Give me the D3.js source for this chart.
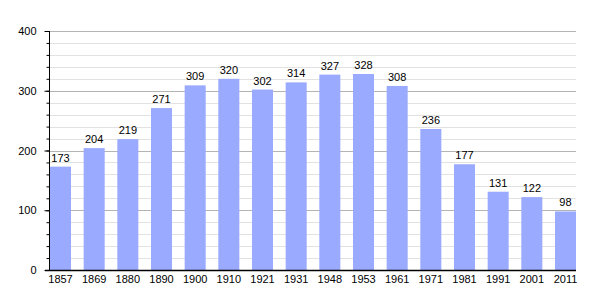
<!DOCTYPE html>
<html>
<head>
<meta charset="utf-8">
<script src="https://cdn.jsdelivr.net/npm/d3@7"></script>
<style>
  body { margin: 0; background: #fff; }
  svg text { font-family: "Liberation Sans", Arial, sans-serif; font-size: 11px; fill: #000; }
</style>
</head>
<body>
<div id="chart"></div>
<script>
// Population by census year
var years  = ["1857","1869","1880","1890","1900","1910","1921","1931","1948","1953","1961","1971","1981","1991","2001","2011"];
var values = [173, 204, 219, 271, 309, 320, 302, 314, 327, 328, 308, 236, 177, 131, 122, 98];
var majorTicks = [0, 100, 200, 300, 400];
var minorTicks = d3.range(0, 401, 20);

// plot box (note: "top" is taken by window.top, so prefix everything)
var width      = 605,
    height     = 300,
    plotLeft   = 50,
    plotRight  = 576,
    plotTop    = 31,
    plotBottom = 270;

var svg = d3.select("#chart")
  .append("svg")
    .attr("width", width)
    .attr("height", height);

var x = d3.scaleBand()
  .domain(years)
  .range([plotLeft, plotRight])
  .paddingInner(0.376)
  .paddingOuter(0);

var y = d3.scaleLinear()
  .domain([0, 400])
  .range([plotBottom, plotTop]);

// minor grid lines
svg.append("g")
  .selectAll("line")
  .data(minorTicks.filter(function(d){ return d % 100 != 0; }))
  .enter().append("line")
    .attr("x1", plotLeft).attr("x2", plotRight)
    .attr("y1", function(d){ return Math.round(y(d)) + 0.5; })
    .attr("y2", function(d){ return Math.round(y(d)) + 0.5; })
    .style("stroke", "#e2e2e2");

// major grid lines
svg.append("g")
  .selectAll("line")
  .data(majorTicks.filter(function(d){ return d > 0; }))
  .enter().append("line")
    .attr("x1", plotLeft).attr("x2", plotRight)
    .attr("y1", function(d){ return Math.round(y(d)) + 0.5; })
    .attr("y2", function(d){ return Math.round(y(d)) + 0.5; })
    .style("stroke", "#b4b4b4");

// bars
svg.append("g")
  .selectAll("rect")
  .data(values)
  .enter().append("rect")
    .attr("x", function(d, i){ return x(years[i]); })
    .attr("y", function(d){ return y(d); })
    .attr("width", x.bandwidth())
    .attr("height", function(d){ return plotBottom - y(d); })
    .style("fill", "#99aaff");

// value labels
svg.append("g")
  .selectAll("text")
  .data(values)
  .enter().append("text")
    .attr("x", function(d, i){ return x(years[i]) + x.bandwidth() / 2; })
    .attr("y", function(d){ return y(d) - 5; })
    .attr("text-anchor", "middle")
    .text(function(d){ return d; });

// y axis: minor ticks then major ticks with labels
var yMinor = d3.axisLeft(y).tickValues(minorTicks).tickSize(3).tickFormat("");
svg.append("g")
  .attr("transform", "translate(" + (plotLeft - 0.5) + ",0)")
  .call(yMinor)
  .call(function(g){ g.select(".domain").remove(); });

var yAxis = d3.axisLeft(y).tickValues(majorTicks).tickSize(5).tickPadding(8);
svg.append("g")
  .attr("transform", "translate(" + (plotLeft - 0.5) + ",0)")
  .call(yAxis)
  .call(function(g){
    g.select(".domain").attr("d", "M0," + y(400) + "V" + y(0));
    g.selectAll("text").style("font-size", "11px").style("font-family", "Liberation Sans, Arial, sans-serif");
  });

// x axis
var xAxis = d3.axisBottom(x).tickSize(0).tickPadding(5);
svg.append("g")
  .attr("transform", "translate(0," + (plotBottom + 0.5) + ")")
  .call(xAxis)
  .call(function(g){
    g.select(".domain").attr("d", "M" + (plotLeft - 5) + ",0H" + plotRight).style("stroke-width", 1.5);
    g.selectAll("text").style("font-size", "11px").style("font-family", "Liberation Sans, Arial, sans-serif");
  });
</script>
</body>
</html>
